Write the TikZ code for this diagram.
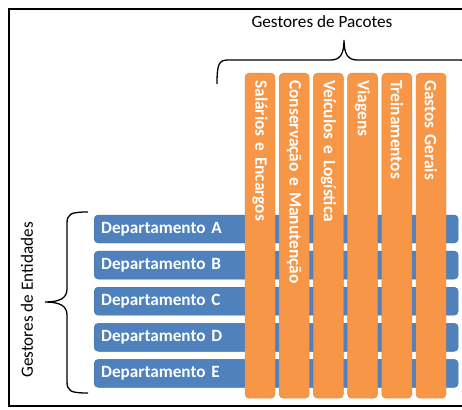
\documentclass[tikz,border=0pt]{standalone}
\usepackage{fontspec}
\setmainfont{Carlito}
\definecolor{deptblue}{HTML}{4F81BD}
\definecolor{deptline}{HTML}{41709F}
\definecolor{pacorange}{HTML}{F79646}
\definecolor{pacline}{HTML}{E0883C}
\tikzset{
  deptbox/.style={draw=deptline, fill=deptblue, rounded corners=4pt, anchor=west,
    minimum height=28pt, text width=350pt, inner xsep=7pt, align=left,
    text=white, font=\fontsize{17.2}{19}\selectfont\bfseries},
  pacbox/.style={draw=pacline, fill=pacorange, rounded corners=4pt, rotate=-90, anchor=west,
    minimum height=30pt, text width=311pt, inner xsep=7pt, align=left,
    text=white, font=\fontsize{17.4}{19}\selectfont\bfseries},
  chave/.style={line width=1.3pt}
}
\begin{document}
\begin{tikzpicture}[x=1pt, y=-1pt]
  \useasboundingbox (0,0) rectangle (462,409);
  \draw[line width=1.4pt] (9,9) rectangle (475,406);

  % departamentos
  \foreach \d [count=\i from 0] in {A,B,C,D,E}
    \node[deptbox] (dep\d) at (94,229+36.1*\i) {Departamento \d};

  % pacotes
  \foreach \p [count=\i from 0] in {Salários e Encargos, Conservação e Manutenção,
      Veículos e Logística, Viagens, Treinamentos, Gastos Gerais}
    \node[pacbox] (pac\i) at (260+34.2*\i,73) {\p};

  % chaves
  \draw[chave] (88,212) .. controls (70,212) and (67,214) .. (67,224) -- (67,289)
    .. controls (67,298) and (60,302) .. (45,302)
    .. controls (60,302) and (67,306) .. (67,315) -- (67,381)
    .. controls (67,391) and (70,393) .. (88,393);
  \draw[chave] (217,84) .. controls (217,64) and (219,60) .. (228,60) -- (331,60)
    .. controls (340,60) and (344,54) .. (344,40)
    .. controls (344,54) and (348,60) .. (357,60) -- (460,60)
    .. controls (469,60) and (471,64) .. (471,84);

  \node[font=\fontsize{17.2}{19}\selectfont] (pacotes) at (322,22) {Gestores de Pacotes};
  \node[font=\fontsize{17.2}{19}\selectfont, rotate=90] (entidades) at (27,300) {Gestores de Entidades};
\end{tikzpicture}
\end{document}
